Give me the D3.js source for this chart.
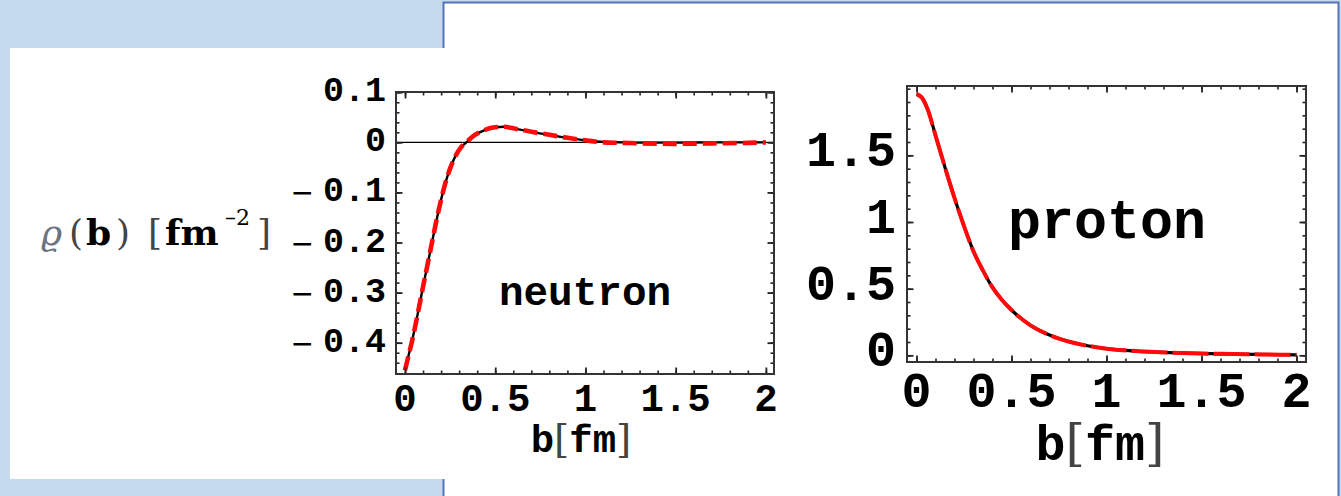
<!DOCTYPE html>
<html lang="en">
<head>
<meta charset="UTF-8">
<script src="https://d3js.org/d3.v7.min.js"></script>
<style>
    body {
        margin: 0;
        background: #c6daee;
        overflow: hidden;
    }
    svg { display: block; }
    .mono {
        font-family: "Liberation Mono", "Courier New", monospace;
        font-weight: bold;
        fill: #000;
    }
    .thin {
        font-family: "DejaVu Serif", serif;
        font-weight: normal;
        fill: #444;
    }
</style>
<title>neutron / proton transverse density</title>
</head>
<body>
<svg id="chart" width="1341" height="496"></svg>
<script>
    // impact parameter b [fm] and charge density rho(b) [fm^-2]
    var neutronB      = [0, 0.02, 0.04, 0.07, 0.1, 0.13, 0.16, 0.19, 0.22, 0.25, 0.28, 0.31, 0.34, 0.38, 0.42, 0.46, 0.5, 0.55, 0.6, 0.7, 0.8, 0.9, 1.0, 1.1, 1.2, 1.3, 1.5, 1.7, 1.9, 2.0];
    var neutronSolid  = [-0.455, -0.425, -0.395, -0.343, -0.288, -0.235, -0.181, -0.13, -0.086, -0.052, -0.027, -0.01, 0.0, 0.013, 0.021, 0.027, 0.030, 0.031, 0.028, 0.021, 0.015, 0.009, 0.004, 0.001, 0.0, -0.0005, -0.0005, 0.0, 0.0, 0.0];
    var neutronDashed = [-0.455, -0.425, -0.395, -0.343, -0.288, -0.235, -0.181, -0.13, -0.086, -0.052, -0.027, -0.01, 0.0, 0.013, 0.021, 0.027, 0.030, 0.031, 0.028, 0.021, 0.015, 0.009, 0.004, 0.0, -0.001, -0.002, -0.003, -0.002, -0.001, 0.0];

    var protonB      = [0, 0.03, 0.06, 0.1, 0.15, 0.2, 0.25, 0.3, 0.35, 0.4, 0.45, 0.5, 0.6, 0.7, 0.8, 0.9, 1.0, 1.2, 1.4, 1.6, 1.8, 2.0];
    var protonSolid  = [1.96, 1.93, 1.84, 1.65, 1.41, 1.18, 0.97, 0.78, 0.635, 0.51, 0.415, 0.34, 0.225, 0.152, 0.104, 0.072, 0.05, 0.028, 0.017, 0.011, 0.007, 0.004];
    var protonDashed = [1.96, 1.93, 1.84, 1.65, 1.41, 1.18, 0.97, 0.78, 0.635, 0.51, 0.415, 0.34, 0.225, 0.152, 0.104, 0.072, 0.05, 0.028, 0.017, 0.011, 0.007, 0.004];

    var xTickValues = [0, 0.5, 1, 1.5, 2];
    var neutronYTicks = [0.1, 0, -0.1, -0.2, -0.3, -0.4];
    var protonYTicks = [0, 0.5, 1, 1.5];

    var svg = d3.select("#chart");

    // slide background: framed panel on the right, plain white card on the left
    svg.append("rect")
        .attr("x", 443.5).attr("y", 2.5)
        .attr("width", 895).attr("height", 600)
        .attr("fill", "#fff")
        .attr("stroke", "#5672ba")
        .attr("stroke-width", 2);
    svg.append("rect")
        .attr("x", 10).attr("y", 48)
        .attr("width", 435).attr("height", 431)
        .attr("fill", "#fff");

    function drawPanel(opt) {
        var x = d3.scaleLinear().domain(opt.xDom).range([opt.left, opt.right]);
        var y = d3.scaleLinear().domain(opt.yDom).range([opt.bottom, opt.top]);
        var g = svg.append("g");

        if (opt.zeroLine) {
            g.append("line")
                .attr("x1", opt.left).attr("x2", opt.right)
                .attr("y1", y(0)).attr("y2", y(0))
                .attr("stroke", "#000").attr("stroke-width", 1.3);
        }

        var line = d3.line()
            .x(function (d) { return x(d[0]); })
            .y(function (d) { return y(d[1]); })
            .curve(d3.curveMonotoneX);

        g.append("path")
            .datum(d3.zip(opt.b, opt.solid))
            .attr("d", line)
            .attr("fill", "none")
            .attr("stroke", "#000")
            .attr("stroke-width", opt.solidWidth);

        g.append("path")
            .datum(d3.zip(opt.b, opt.dashed))
            .attr("d", line)
            .attr("fill", "none")
            .attr("stroke", "#ff0a0a")
            .attr("stroke-width", opt.dashWidth)
            .attr("stroke-dasharray", opt.dash);

        // frame with inward ticks on every side
        var minorX = d3.range(0, 21).map(function (i) { return i / 10; });
        var sides = [
            [d3.axisBottom(x), "translate(0," + opt.bottom + ")", minorX, xTickValues],
            [d3.axisTop(x), "translate(0," + opt.top + ")", minorX, xTickValues],
            [d3.axisLeft(y), "translate(" + opt.left + ",0)", opt.minorY, opt.majorY],
            [d3.axisRight(y), "translate(" + opt.right + ",0)", opt.minorY, opt.majorY]
        ];
        sides.forEach(function (s) {
            var minorAxis = s[0].tickValues(s[2]).tickSize(-3.5).tickFormat("");
            var ga = g.append("g").attr("transform", s[1]).call(minorAxis);
            ga.select(".domain").remove();
            ga.selectAll("line").attr("stroke", "#222").attr("stroke-width", 1.6);
            var majorAxis = s[0].tickValues(s[3]).tickSize(-6.5).tickFormat("");
            var gb = g.append("g").attr("transform", s[1]).call(majorAxis);
            gb.select(".domain").remove();
            gb.selectAll("line").attr("stroke", "#222").attr("stroke-width", 1.8);
        });

        g.append("rect")
            .attr("x", opt.left).attr("y", opt.top)
            .attr("width", opt.right - opt.left)
            .attr("height", opt.bottom - opt.top)
            .attr("fill", "none")
            .attr("stroke", "#333")
            .attr("stroke-width", 2);

        // tick labels
        g.selectAll(".xlab")
            .data(xTickValues)
            .enter().append("text")
            .attr("class", "mono")
            .attr("x", function (d) { return x(d); })
            .attr("y", opt.xLabelBase)
            .attr("text-anchor", "middle")
            .style("font-size", opt.xFont + "px")
            .text(function (d) { return String(d); });

        var yl = g.selectAll(".ylab")
            .data(opt.yLabels)
            .enter().append("text")
            .attr("class", "mono")
            .attr("x", opt.yLabelRight)
            .attr("y", function (d) { return y(d) + opt.yLabelShift; })
            .attr("text-anchor", "end")
            .attr("dominant-baseline", "central")
            .style("font-size", opt.yFont + "px");
        yl.filter(function (d) { return d < 0; })
            .append("tspan")
            .style("font-family", "DejaVu Sans")
            .style("font-weight", "normal")
            .style("font-size", (opt.yFont * 0.8) + "px")
            .text("\u2212 ");
        yl.append("tspan").text(function (d) { return String(Math.abs(d)); });

        // axis title b[fm]
        var t = g.append("text")
            .attr("x", opt.titleX)
            .attr("y", opt.titleBase)
            .attr("text-anchor", "middle")
            .style("font-size", opt.titleFont + "px");
        t.append("tspan").attr("class", "mono").text("b");
        t.append("tspan").attr("class", "thin").text("[");
        t.append("tspan").attr("class", "mono").text("fm");
        t.append("tspan").attr("class", "thin").text("]");

        g.append("text")
            .attr("class", "mono")
            .attr("x", opt.nameX)
            .attr("y", opt.nameBase)
            .attr("text-anchor", "middle")
            .style("font-size", opt.nameFont + "px")
            .text(opt.name);
    }

    drawPanel({
        name: "neutron",
        b: neutronB, solid: neutronSolid, dashed: neutronDashed,
        xDom: [-0.05, 2.045], yDom: [-0.4625, 0.1005],
        left: 396, right: 774, top: 92, bottom: 374,
        zeroLine: true,
        solidWidth: 2.4, dashWidth: 4.6, dash: "14,6",
        minorY: d3.range(-22, 6).map(function (i) { return i / 50; }),
        majorY: neutronYTicks,
        yLabels: neutronYTicks,
        xFont: 39, xLabelBase: 411,
        yFont: 35, yLabelRight: 386, yLabelShift: 0,
        titleX: 581, titleBase: 452, titleFont: 39,
        nameX: 585, nameBase: 305, nameFont: 41
    });

    drawPanel({
        name: "proton",
        b: protonB, solid: protonSolid, dashed: protonDashed,
        xDom: [-0.05, 2.05], yDom: [-0.05, 2.02],
        left: 907, right: 1306, top: 86, bottom: 362,
        zeroLine: false,
        solidWidth: 3.2, dashWidth: 4, dash: "36,5",
        minorY: d3.range(0, 21).map(function (i) { return i / 10; }),
        majorY: protonYTicks,
        yLabels: protonYTicks,
        xFont: 50, xLabelBase: 407,
        yFont: 50, yLabelRight: 896, yLabelShift: -3,
        titleX: 1100, titleBase: 460, titleFont: 50,
        nameX: 1107, nameBase: 238, nameFont: 55
    });

    // shared y-axis title: rho(b) [fm^-2]
    var yt = svg.append("text")
        .attr("y", 245)
        .style("font-family", "'DejaVu Serif', serif")
        .style("font-size", "36px");
    yt.append("tspan").attr("x", 41).style("fill", "#6b7280").style("font-style", "italic").text("\u03f1");
    yt.append("tspan").attr("x", 69).style("fill", "#444").text("(");
    yt.append("tspan").attr("x", 86).style("font-weight", "bold").text("b");
    yt.append("tspan").attr("x", 116).style("fill", "#444").text(")");
    yt.append("tspan").attr("x", 148).style("fill", "#444").text("[");
    yt.append("tspan").attr("x", 165).style("font-weight", "bold").text("fm");
    yt.append("tspan").attr("x", 225).attr("dy", -20).style("font-size", "22px").text("\u20132");
    yt.append("tspan").attr("x", 257).attr("dy", 20).style("fill", "#444").text("]");
</script>
</body>
</html>
